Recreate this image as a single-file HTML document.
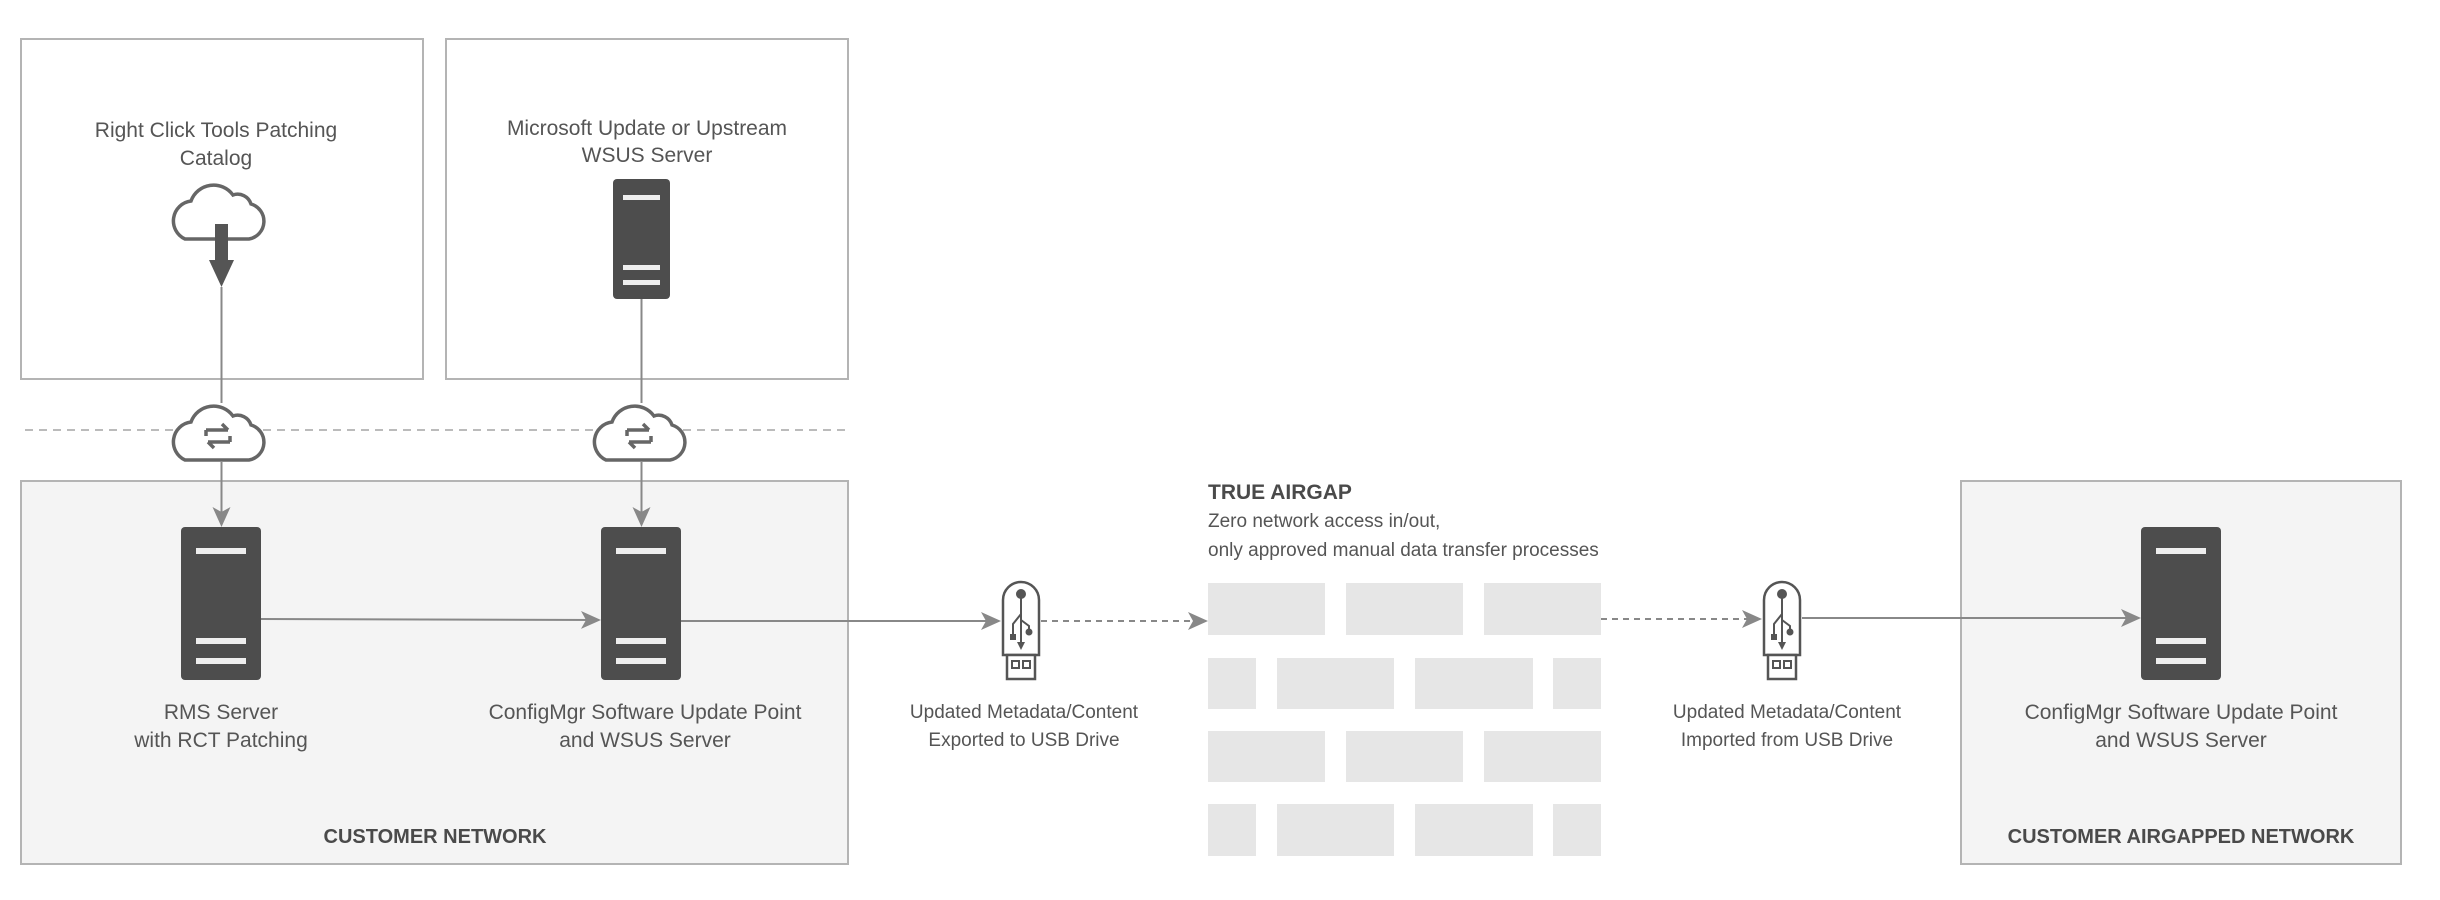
<!DOCTYPE html>
<html><head><meta charset="utf-8"><style>
html,body{margin:0;padding:0;background:#fff;}
svg{display:block;font-family:"Liberation Sans",sans-serif;}
.t{fill:#555;font-size:21px;text-anchor:middle;}
.s{fill:#555;font-size:19px;text-anchor:middle;}
.b{fill:#4a4a4a;font-size:20px;font-weight:bold;text-anchor:middle;}
</style></head><body>
<svg width="2440" height="900" viewBox="0 0 2440 900" xmlns="http://www.w3.org/2000/svg">
<defs>
<marker id="ah" markerWidth="20" markerHeight="20" refX="18" refY="10" orient="auto" markerUnits="userSpaceOnUse">
<path d="M0,1 L20,10 L0,19 L5,10 Z" fill="#888"/>
</marker>
<g id="cloud"><path d="M20,58 H84 A18,18 0 0 0 86,23 A14,14 0 0 0 68,14 A24,24 0 0 0 26,20 A20,20 0 0 0 20,58 Z" fill="#fff" stroke="#666" stroke-width="3.5"/></g>
<g id="sync">
<path d="M40,28 H62 M56,22 L62,28" fill="none" stroke="#666" stroke-width="3.5"/>
<path d="M64,40 H42 M48,46 L42,40" fill="none" stroke="#666" stroke-width="3.5"/>
<path d="M40,28 V34 M64,40 V34" fill="none" stroke="#666" stroke-width="3.5"/>
</g>
<g id="usb">
<path d="M2,75 V20 A18,18 0 0 1 38,20 V75 Z" fill="#fff" stroke="#555" stroke-width="2.5"/>
<rect x="6" y="75" width="28" height="24" fill="#fff" stroke="#555" stroke-width="2.5"/>
<rect x="11" y="81" width="7" height="7" fill="none" stroke="#555" stroke-width="2"/>
<rect x="22" y="81" width="7" height="7" fill="none" stroke="#555" stroke-width="2"/>
<circle cx="20" cy="14" r="5" fill="#555"/>
<path d="M20,14 V66 M20,34 L12,44 V54 M20,40 L28,46 V52" fill="none" stroke="#555" stroke-width="2"/>
<circle cx="28" cy="52" r="3.5" fill="#555"/>
<rect x="9" y="54" width="6" height="6" fill="#555"/>
<path d="M16,62 L20,70 L24,62 Z" fill="#555"/>
</g>
</defs>

<rect x="21" y="39" width="402" height="340" fill="#fff" stroke="#b4b4b4" stroke-width="2"/>
<rect x="446" y="39" width="402" height="340" fill="#fff" stroke="#b4b4b4" stroke-width="2"/>
<rect x="21" y="481" width="827" height="383" fill="#f4f4f4" stroke="#b4b4b4" stroke-width="2"/>
<rect x="1961" y="481" width="440" height="383" fill="#f4f4f4" stroke="#b4b4b4" stroke-width="2"/>
<line x1="25" y1="430" x2="846" y2="430" stroke="#bbb" stroke-width="2" stroke-dasharray="8,6"/>

<text class="t" x="216" y="137">Right Click Tools Patching</text>
<text class="t" x="216" y="165">Catalog</text>
<text class="t" x="647" y="135">Microsoft Update or Upstream</text>
<text class="t" x="647" y="162">WSUS Server</text>

<use href="#cloud" x="165" y="181"/>
<rect x="215" y="224" width="13" height="37" fill="#555"/>
<path d="M209,260 L234,260 L221.5,287 Z" fill="#555"/>
<line x1="221.5" y1="287" x2="221.5" y2="403" stroke="#888" stroke-width="2"/>

<rect x="613" y="179" width="57" height="120" rx="4" fill="#4d4d4d"/>
<rect x="623" y="195" width="37" height="5" fill="#eee"/>
<rect x="623" y="265" width="37" height="5" fill="#eee"/>
<rect x="623" y="280" width="37" height="5" fill="#eee"/>
<line x1="641.5" y1="299" x2="641.5" y2="403" stroke="#888" stroke-width="2"/>

<use href="#cloud" x="165" y="402"/><use href="#sync" x="166" y="402"/>
<use href="#cloud" x="586" y="402"/><use href="#sync" x="587" y="402"/>

<line x1="221.5" y1="462" x2="221.5" y2="525" stroke="#888" stroke-width="2" marker-end="url(#ah)"/>
<line x1="641.5" y1="462" x2="641.5" y2="525" stroke="#888" stroke-width="2" marker-end="url(#ah)"/>

<rect x="181" y="527" width="80" height="153" rx="4" fill="#4d4d4d"/>
<rect x="196" y="548" width="50" height="6" fill="#eee"/>
<rect x="196" y="638" width="50" height="6" fill="#eee"/>
<rect x="196" y="658" width="50" height="6" fill="#eee"/>
<rect x="601" y="527" width="80" height="153" rx="4" fill="#4d4d4d"/>
<rect x="616" y="548" width="50" height="6" fill="#eee"/>
<rect x="616" y="638" width="50" height="6" fill="#eee"/>
<rect x="616" y="658" width="50" height="6" fill="#eee"/>
<rect x="2141" y="527" width="80" height="153" rx="4" fill="#4d4d4d"/>
<rect x="2156" y="548" width="50" height="6" fill="#eee"/>
<rect x="2156" y="638" width="50" height="6" fill="#eee"/>
<rect x="2156" y="658" width="50" height="6" fill="#eee"/>

<line x1="261" y1="619" x2="599" y2="620" stroke="#888" stroke-width="2" marker-end="url(#ah)"/>
<line x1="681" y1="621" x2="999" y2="621" stroke="#888" stroke-width="2" marker-end="url(#ah)"/>
<line x1="1041" y1="621" x2="1206" y2="621" stroke="#888" stroke-width="2" stroke-dasharray="6,5" marker-end="url(#ah)"/>
<line x1="1601" y1="619" x2="1760" y2="619" stroke="#888" stroke-width="2" stroke-dasharray="6,5" marker-end="url(#ah)"/>
<line x1="1802" y1="618" x2="2139" y2="618" stroke="#888" stroke-width="2" marker-end="url(#ah)"/>

<use href="#usb" x="1001" y="580"/>
<use href="#usb" x="1762" y="580"/>

<g fill="#e6e6e6">
<rect x="1208" y="583" width="117" height="52"/><rect x="1346" y="583" width="117" height="52"/><rect x="1484" y="583" width="117" height="52"/>
<rect x="1208" y="658" width="48" height="51"/><rect x="1277" y="658" width="117" height="51"/><rect x="1415" y="658" width="118" height="51"/><rect x="1553" y="658" width="48" height="51"/>
<rect x="1208" y="731" width="117" height="51"/><rect x="1346" y="731" width="117" height="51"/><rect x="1484" y="731" width="117" height="51"/>
<rect x="1208" y="804" width="48" height="52"/><rect x="1277" y="804" width="117" height="52"/><rect x="1415" y="804" width="118" height="52"/><rect x="1553" y="804" width="48" height="52"/>
</g>
<text x="1208" y="499" fill="#4a4a4a" font-size="21" font-weight="bold">TRUE AIRGAP</text>
<text x="1208" y="527" fill="#555" font-size="19">Zero network access in/out,</text>
<text x="1208" y="556" fill="#555" font-size="19">only approved manual data transfer processes</text>

<text class="t" x="221" y="719">RMS Server</text>
<text class="t" x="221" y="747">with RCT Patching</text>
<text class="t" x="645" y="719">ConfigMgr Software Update Point</text>
<text class="t" x="645" y="747">and WSUS Server</text>
<text class="b" x="435" y="843">CUSTOMER NETWORK</text>

<text class="s" x="1024" y="718">Updated Metadata/Content</text>
<text class="s" x="1024" y="746">Exported to USB Drive</text>
<text class="s" x="1787" y="718">Updated Metadata/Content</text>
<text class="s" x="1787" y="746">Imported from USB Drive</text>

<text class="t" x="2181" y="719">ConfigMgr Software Update Point</text>
<text class="t" x="2181" y="747">and WSUS Server</text>
<text class="b" x="2181" y="843">CUSTOMER AIRGAPPED NETWORK</text>
</svg>
</body></html>
